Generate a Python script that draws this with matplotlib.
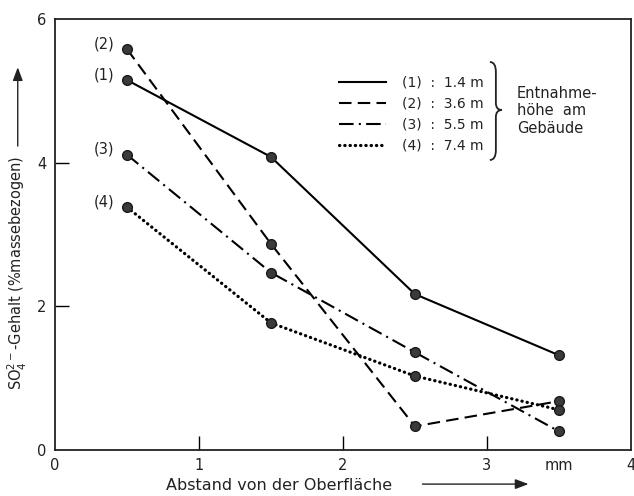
import matplotlib
matplotlib.use("Agg")
import matplotlib.pyplot as plt
from matplotlib.lines import Line2D
from matplotlib.path import Path
from matplotlib.patches import PathPatch, FancyArrowPatch

x = [0.5, 1.5, 2.5, 3.5]
s1 = [5.15, 4.08, 2.17, 1.32]
s2 = [5.58, 2.87, 0.33, 0.68]
s3 = [4.11, 2.47, 1.36, 0.26]
s4 = [3.38, 1.77, 1.03, 0.56]
series = [s1, s2, s3, s4]
names = ["(1)", "(2)", "(3)", "(4)"]
legend_labels = ["(1)  :  1.4 m", "(2)  :  3.6 m", "(3)  :  5.5 m", "(4)  :  7.4 m"]
xticks = [0, 1, 2, 3, 3.5, 4]
xticklabels = ["0", "1", "2", "3", "mm", "4"]
yticks = [0, 2, 4, 6]
yticklabels = ["0", "2", "4", "6"]

plt.rcParams['font.family'] = ['DejaVu Sans']
fig = plt.figure(figsize=(6.34, 4.96), dpi=100)
ax = fig.add_axes([0.0868, 0.0927, 0.9082, 0.869])
ax.set_xlim(0, 4)
ax.set_ylim(0, 6)

styles = [
    dict(linestyle='-', linewidth=1.5),
    dict(linestyle=(0, (6, 3)), linewidth=1.5),
    dict(linestyle=(0, (7, 2.5, 1, 2.5)), linewidth=1.5),
    dict(linestyle=(0, (0.1, 1.55)), linewidth=2.3, dash_capstyle='round'),
]
handles = []
for s, st in zip(series, styles):
    ax.plot(x, s, color='black', zorder=2, **st)
    ax.plot(x, s, linestyle='none', marker='o', markersize=7,
            markerfacecolor='#3a3a3a', markeredgecolor='#1a1a1a', zorder=3)
    handles.append(Line2D([0], [0], color='black', **st))

for s, n in zip(series, names):
    ax.annotate(n, (x[0], s[0]), xytext=(-9, 4), textcoords='offset points',
                ha='right', va='center', fontsize=10.5, color='#222')

leg = ax.legend(handles, legend_labels, loc='upper left',
                bbox_to_anchor=(0.493, 0.868), borderaxespad=0, borderpad=0,
                frameon=False, fontsize=10,
                handlelength=3.4, handletextpad=1.15, labelspacing=0.5)
for t in leg.get_texts():
    t.set_color('#222')

# brace drawn in axes-fraction coordinates
def px2ax(px, py):
    return ((px - 55) / 576.0, (450 - py) / 431.0)

pts_px = [(490, 62), (496, 62), (496, 72),
          (496, 103),
          (496, 110), (502, 110),
          (496, 110), (496, 117),
          (496, 150),
          (496, 160), (490, 160)]
codes = [Path.MOVETO, Path.CURVE3, Path.CURVE3,
         Path.LINETO,
         Path.CURVE3, Path.CURVE3,
         Path.CURVE3, Path.CURVE3,
         Path.LINETO,
         Path.CURVE3, Path.CURVE3]
brace = Path([px2ax(*p) for p in pts_px], codes)
ax.add_patch(PathPatch(brace, transform=ax.transAxes, facecolor='none',
                       edgecolor='#222', lw=1.3, clip_on=False))

ax.text(0.802, 0.787, "Entnahme-\nhöhe  am\nGebäude", transform=ax.transAxes,
        fontsize=10.5, ha='left', va='center', linespacing=1.2, color='#222')

ax.set_xticks(xticks)
ax.set_xticklabels(xticklabels, fontsize=10.5, color='#222')
ax.set_yticks(yticks)
ax.set_yticklabels(yticklabels, fontsize=10.5, color='#222')
ax.tick_params(direction='in', length=10, width=1.0, pad=6)
for tk in ax.xaxis.get_major_ticks():
    if tk.get_loc() in (0, 3.5, 4):
        tk.tick1line.set_visible(False)
        tk.tick2line.set_visible(False)
for tk in ax.yaxis.get_major_ticks():
    if tk.get_loc() in (0, 6):
        tk.tick1line.set_visible(False)
        tk.tick2line.set_visible(False)
ax.tick_params(top=False, right=False)
for sp in ax.spines.values():
    sp.set_linewidth(1.3)
    sp.set_color('#222')

# axis labels with arrows
fig.text(0.44, 0.022, "Abstand von der Oberfläche", ha='center', va='center',
         fontsize=11.5, color='#222')
fig.add_artist(FancyArrowPatch(
    (0.662, 0.024), (0.838, 0.024), transform=fig.transFigure,
    arrowstyle='-|>,head_length=8,head_width=3', color='#222', lw=1.0,
    mutation_scale=1))
fig.text(0.028, 0.45, r"SO$_4^{2-}$-Gehalt (%massebezogen)", ha='center',
         va='center', rotation=90, fontsize=10.5, color='#222')
fig.add_artist(FancyArrowPatch(
    (0.028, 0.70), (0.028, 0.87), transform=fig.transFigure,
    arrowstyle='-|>,head_length=8,head_width=3', color='#222', lw=1.0,
    mutation_scale=1))

fig.savefig("out.png", dpi=100)
